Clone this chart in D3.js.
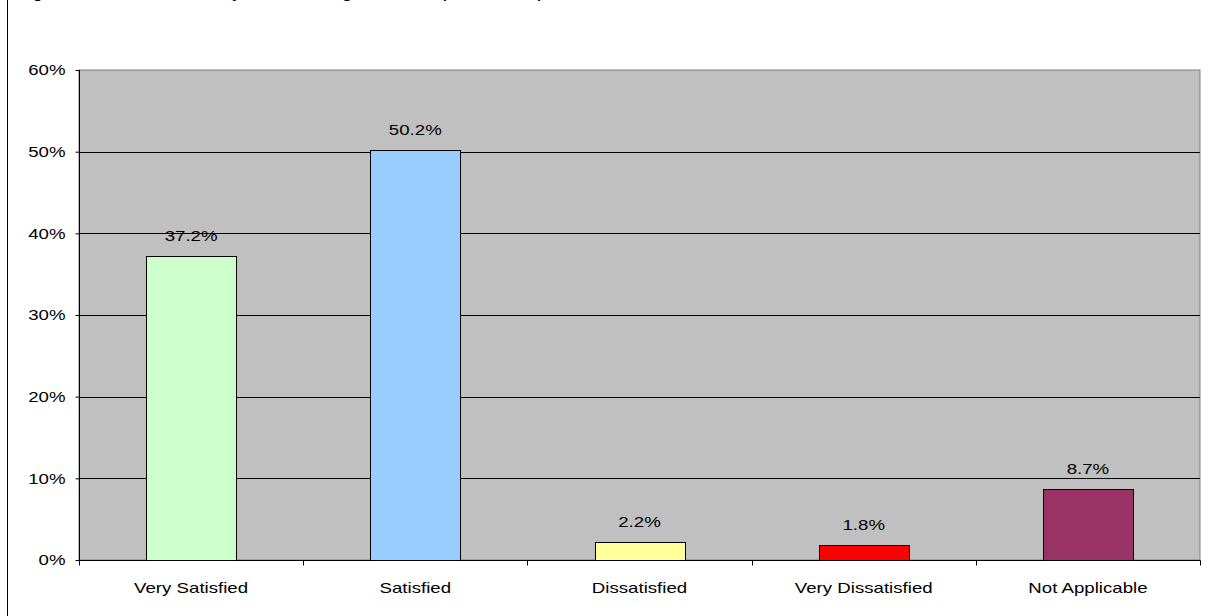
<!DOCTYPE html>
<html>
<head>
<meta charset="utf-8">
<script src="https://cdn.jsdelivr.net/npm/d3@7"></script>
<style>
  html, body { margin: 0; padding: 0; background: #fff; }
  svg { display: block; }
  text { font-family: "Liberation Sans", Arial, sans-serif; fill: #000; }
</style>
</head>
<body>
<svg id="chart" width="1208" height="616"></svg>
<script>
// Survey responses: share of respondents per satisfaction level
const categories = ["Very Satisfied", "Satisfied", "Dissatisfied", "Very Dissatisfied", "Not Applicable"];
const values = [37.2, 50.2, 2.2, 1.8, 8.7];
const barColors = ["#CCFFCC", "#99CCFF", "#FFFF99", "#FF0000", "#993366"];
const yTicks = [0, 10, 20, 30, 40, 50, 60];
const titleText = "Figure 8: Level of Satisfaction by Clients with Legal Aid and Help from the Helpdesk";

const W = 1208, H = 616;
const margin = { left: 79, right: 8, top: 70, bottom: 56 };
const stretch = 1.333; // horizontal text stretch of the original chart export

const svg = d3.select("#chart");

// outer chart frame (left edge)
svg.append("line")
  .attr("x1", 7.5).attr("x2", 7.5).attr("y1", 0).attr("y2", H)
  .attr("stroke", "#000").attr("stroke-width", 1);

// title (sits above the visible frame; only its descenders reach into view)
svg.append("text")
  .attr("transform", `translate(21,-1.5) scale(${stretch},1)`)
  .attr("font-size", 10.5)
  .attr("font-weight", "bold")
  .text(titleText);

const x = d3.scaleBand()
  .domain(categories)
  .range([margin.left, W - margin.right])
  .paddingInner(0.6)
  .paddingOuter(0.3);

const y = d3.scaleLinear()
  .domain([0, 60])
  .range([H - margin.bottom, margin.top]);

const x0 = margin.left, x1 = W - margin.right;

// plot area
svg.append("rect")
  .attr("x", x0).attr("y", y(60))
  .attr("width", x1 - x0).attr("height", y(0) - y(60))
  .attr("fill", "#C0C0C0")
  .attr("stroke", "#808080").attr("stroke-width", 1);

// gridlines
svg.append("g")
  .selectAll("line")
  .data(yTicks.filter(d => d > 0 && d < 60))
  .join("line")
  .attr("x1", x0).attr("x2", x1)
  .attr("y1", d => Math.round(y(d)) + 0.5)
  .attr("y2", d => Math.round(y(d)) + 0.5)
  .attr("stroke", "#000").attr("stroke-width", 1);

// bars
svg.append("g")
  .selectAll("rect")
  .data(values)
  .join("rect")
  .attr("x", (d, i) => Math.round(x(categories[i])) + 0.5)
  .attr("y", d => Math.round(y(d)) + 0.5)
  .attr("width", Math.round(x.bandwidth()))
  .attr("height", d => Math.round(y(0)) - Math.round(y(d)))
  .attr("fill", (d, i) => barColors[i])
  .attr("stroke", "#000").attr("stroke-width", 1);

// value labels
svg.append("g")
  .selectAll("text")
  .data(values)
  .join("text")
  .attr("transform", (d, i) => `translate(${x(categories[i]) + x.bandwidth() / 2},${y(d) - 15}) scale(${stretch},1)`)
  .attr("text-anchor", "middle")
  .attr("font-size", 14)
  .text(d => d.toFixed(1) + "%");

// y axis
const yAxis = svg.append("g")
  .attr("transform", `translate(${x0 + 0.5},0)`)
  .call(d3.axisLeft(y).tickValues(yTicks).tickSize(4).tickFormat(d => d + "%"));
yAxis.select(".domain").attr("stroke", "#000").attr("d", `M0,${y(60)}V${y(0)}`);
yAxis.selectAll(".tick line").attr("stroke", "#000");
yAxis.selectAll(".tick text")
  .attr("font-family", null)
  .attr("font-size", 14)
  .attr("x", null)
  .attr("dy", "0.35em")
  .attr("transform", `translate(-14,0) scale(${stretch},1)`);

// x axis with separator ticks between categories
const xAxisG = svg.append("g")
  .attr("transform", `translate(0,${Math.round(y(0)) + 0.5})`);
xAxisG.append("line")
  .attr("x1", x0).attr("x2", x1 + 0.5)
  .attr("stroke", "#000");
const step = (x1 - x0) / categories.length;
xAxisG.selectAll("line.sep")
  .data(d3.range(categories.length + 1))
  .join("line")
  .attr("class", "sep")
  .attr("x1", i => Math.round(x0 + i * step) + 0.5)
  .attr("x2", i => Math.round(x0 + i * step) + 0.5)
  .attr("y1", 0).attr("y2", 5)
  .attr("stroke", "#000");
xAxisG.selectAll("text")
  .data(categories)
  .join("text")
  .attr("transform", d => `translate(${x(d) + x.bandwidth() / 2},32) scale(${stretch},1)`)
  .attr("text-anchor", "middle")
  .attr("font-size", 14)
  .text(d => d);
</script>
</body>
</html>
